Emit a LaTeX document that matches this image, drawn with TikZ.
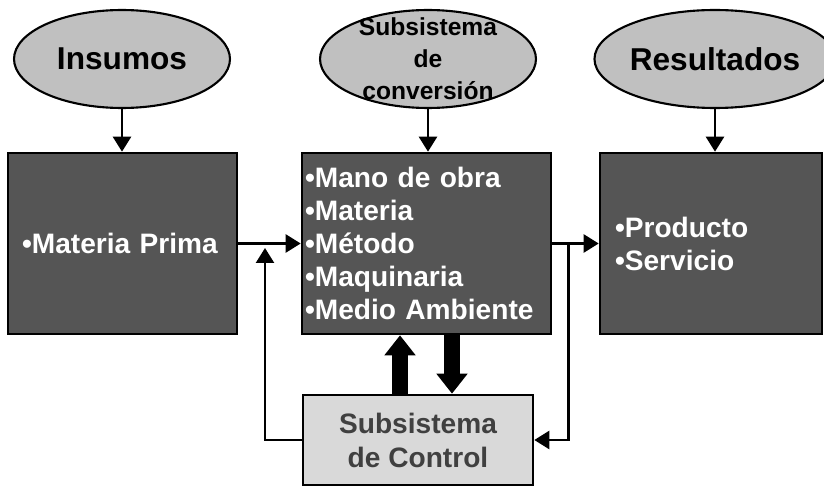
\documentclass[tikz,border=0pt]{standalone}
\usepackage{fontspec}
\setmainfont{Liberation Sans}
\usetikzlibrary{arrows.meta,shapes.geometric,positioning,calc}
\definecolor{sysdark}{RGB}{85,85,85}
\definecolor{sysgray}{RGB}{192,192,192}
\definecolor{syslight}{RGB}{217,217,217}
\definecolor{systext}{RGB}{64,64,64}
\tikzstyle{arrow} = [line width=1.4pt,-{Triangle[length=0.3cm,width=0.36cm]}]
\tikzstyle{bigarrow} = [line width=9pt,-{Triangle[length=0.4cm,width=0.6cm]}]
\tikzstyle{stage} = [ellipse, draw, line width=1.2pt, fill=sysgray, minimum width=4.32cm, minimum height=1.96cm, inner sep=0pt, font=\fontsize{18}{20}\selectfont\bfseries]
\tikzstyle{block} = [rectangle, draw, line width=1.5pt, fill=sysdark, text=white, minimum height=3.62cm, align=left, font=\fontsize{16}{18.8}\selectfont\bfseries]

\begin{document}
\begin{tikzpicture}[x=0.02cm, y=-0.02cm]
\useasboundingbox (0,0) rectangle (824,486);

% Transformation boxes
\node (raw) [block, minimum width=4.58cm, inner xsep=0.28cm, text width=4.02cm] at (122.5,243.5) {\textbullet Materia Prima};
\node (conv) [block, minimum width=4.98cm, inner xsep=0.06cm, text width=4.86cm] at (426.5,243.5) {
\textbullet Mano de obra\\
\textbullet Materia\\
\textbullet Método\\
\textbullet Maquinaria\\
\textbullet Medio Ambiente
};
\node (prod) [block, minimum width=4.44cm, inner xsep=0.3cm, text width=3.84cm] at (711,243.5) {
\textbullet Producto\\
\textbullet Servicio
};

% Headings
\node (insumos) [stage] at (122,59) {Insumos};
\node (sub) [stage, label={[align=center, font=\fontsize{14}{18.2}\selectfont\bfseries]center:Subsistema\\de\\conversión}] at (428,59) {};
\node (resultados) [stage] at (715,59) {Resultados};

% Control box
\node (control) [rectangle, draw, line width=1.5pt, fill=syslight, text=systext, minimum width=4.6cm, minimum height=1.8cm, align=center, font=\fontsize{16}{19.3}\selectfont\bfseries] at (418,440) {Subsistema\\de Control};

\draw[arrow] (insumos) -- (insumos |- raw.north);
\draw[arrow] (sub) -- (sub |- conv.north);
\draw[arrow] (resultados) -- (resultados |- prod.north);

\draw[arrow] (raw.east) -- (conv.west);
\draw[arrow] (conv.east) -- (prod.west);

% Feedback loop
\coordinate (tap) at ($(conv.east)!0.35!(prod.west)$);
\coordinate (ret) at (265,248);
\draw[arrow] (tap) |- (control.east);
\draw[arrow] (control.west) -| (ret);

\draw[bigarrow] ([xshift=-0.36cm]control.north) -- ([xshift=-0.36cm]control.north |- conv.south);
\draw[bigarrow] ([xshift=0.68cm]control.north |- conv.south) -- ([xshift=0.68cm]control.north);
\end{tikzpicture}
\end{document}
